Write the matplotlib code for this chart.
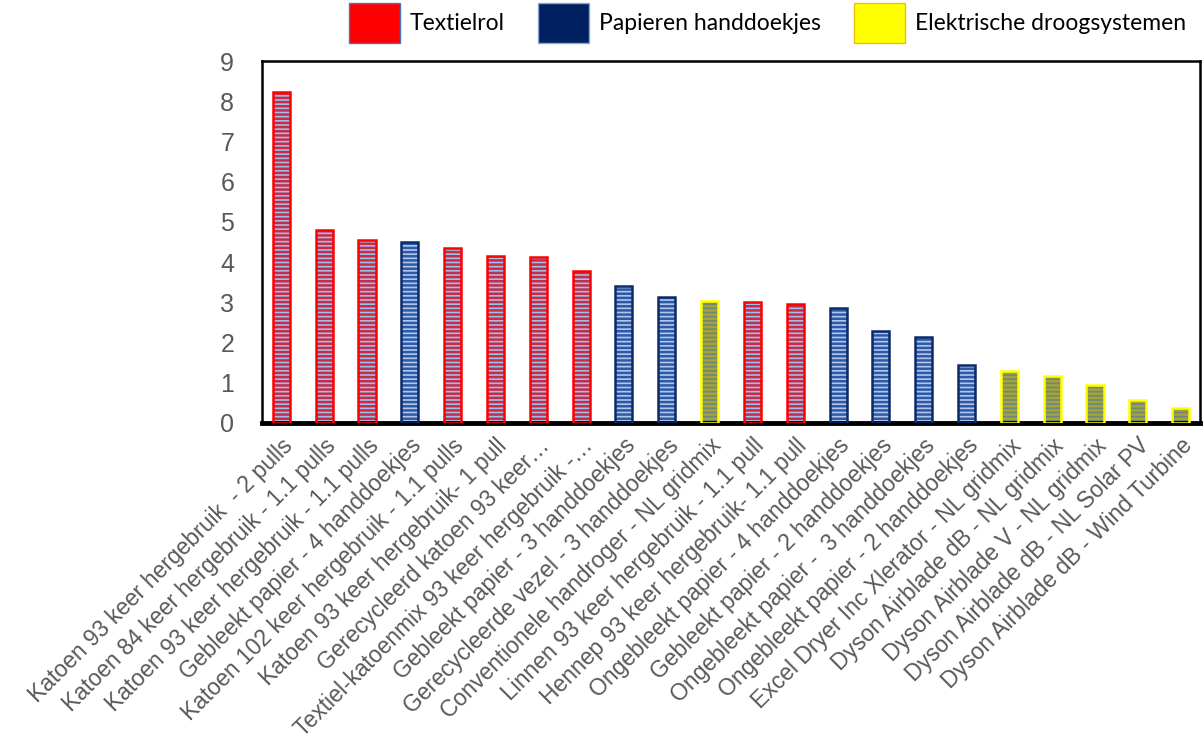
import matplotlib
matplotlib.use("Agg")
import matplotlib.pyplot as plt
from matplotlib.patches import Patch
import numpy as np

# impact per drying method, sorted high to low
labels = [
    "Katoen 93 keer hergebruik  - 2 pulls",
    "Katoen 84 keer hergebruik - 1.1 pulls",
    "Katoen 93 keer hergebruik - 1.1 pulls",
    "Gebleekt papier - 4 handdoekjes",
    "Katoen 102 keer hergebruik - 1.1 pulls",
    "Katoen 93 keer hergebruik- 1 pull",
    "Gerecycleerd katoen 93 keer\u2026",
    "Textiel-katoenmix 93 keer hergebruik -\u2026",
    "Gebleekt papier - 3 handdoekjes",
    "Gerecycleerde vezel - 3 handdoekjes",
    "Conventionele handroger - NL gridmix",
    "Linnen 93 keer hergebruik - 1.1 pull",
    "Hennep 93 keer hergebruik- 1.1 pull",
    "Ongebleekt papier - 4 handdoekjes",
    "Gebleekt papier - 2 handdoekjes",
    "Ongebleekt papier -  3 handdoekjes",
    "Ongebleekt papier - 2 handdoekjes",
    "Excel Dryer Inc Xlerator - NL gridmix",
    "Dyson Airblade dB - NL gridmix",
    "Dyson Airblade V - NL gridmix",
    "Dyson Airblade dB - NL Solar PV",
    "Dyson Airblade dB - Wind Turbine",
]
values = [8.23, 4.81, 4.56, 4.50, 4.36, 4.15, 4.12, 3.78, 3.40, 3.13, 3.04,
          3.01, 2.96, 2.85, 2.29, 2.14, 1.45, 1.29, 1.18, 0.95, 0.57, 0.37]
groups = ["T", "T", "T", "P", "T", "T", "T", "T", "P", "P", "E",
          "T", "T", "P", "P", "P", "P", "E", "E", "E", "E", "E"]
group_names = {"T": "Textielrol", "P": "Papieren handdoekjes", "E": "Elektrische droogsystemen"}

# face, stripe and outline colour per group
face = {"T": "#a4bce6", "P": "#b2c6ea", "E": "#6e8878"}
stripe = {"T": "#c42c4a", "P": "#2c5aa8", "E": "#a4a33a"}
edge = {"T": "#ff0000", "P": "#0c2a6a", "E": "#ffff00"}

plt.rcParams["hatch.linewidth"] = 1.8

fig = plt.figure(figsize=(12.03, 7.43), dpi=100)
ax = fig.add_axes([0.2178, 0.4307, 0.7797, 0.4872])

x = np.arange(len(values))
w = 0.4
for xi, v, g in zip(x, values, groups):
    ax.bar(xi, v, width=w, color=face[g], hatch="----", edgecolor=stripe[g], linewidth=0, zorder=2)
    ax.bar(xi, v, width=w, fill=False, edgecolor=edge[g], linewidth=1.8, zorder=3)

ax.set_xlim(-0.45, len(values) - 0.55)
ax.set_ylim(0, 9)
ax.set_yticks(range(10))
ax.set_xticks(x)
ax.set_xticklabels(labels, rotation=45, ha="right", rotation_mode="anchor",
                   fontsize=16.5, color="#595959", family="Liberation Sans")
ax.tick_params(axis="x", length=0, pad=8)
ax.tick_params(axis="y", length=0, pad=20, labelsize=18, labelcolor="#595959")
for t in ax.get_yticklabels():
    t.set_family("Liberation Sans")

for side in ["left", "top", "right"]:
    ax.spines[side].set_linewidth(1.8)
ax.spines["bottom"].set_linewidth(3.5)

handles = [
    Patch(facecolor="#ff0000", edgecolor="#4a74c0", label=group_names["T"]),
    Patch(facecolor="#002060", edgecolor="#8aa8d8", label=group_names["P"]),
    Patch(facecolor="#ffff00", edgecolor="#f0c000", label=group_names["E"]),
]
fig.legend(handles=handles, loc="upper right", bbox_to_anchor=(1.003, 1.024), ncol=3,
           frameon=False, prop={"family": "Lato", "size": 16.5},
           handlelength=2.2, handleheight=2.3, handletextpad=0.45, columnspacing=1.45)

fig.savefig("out.png", dpi=100)
